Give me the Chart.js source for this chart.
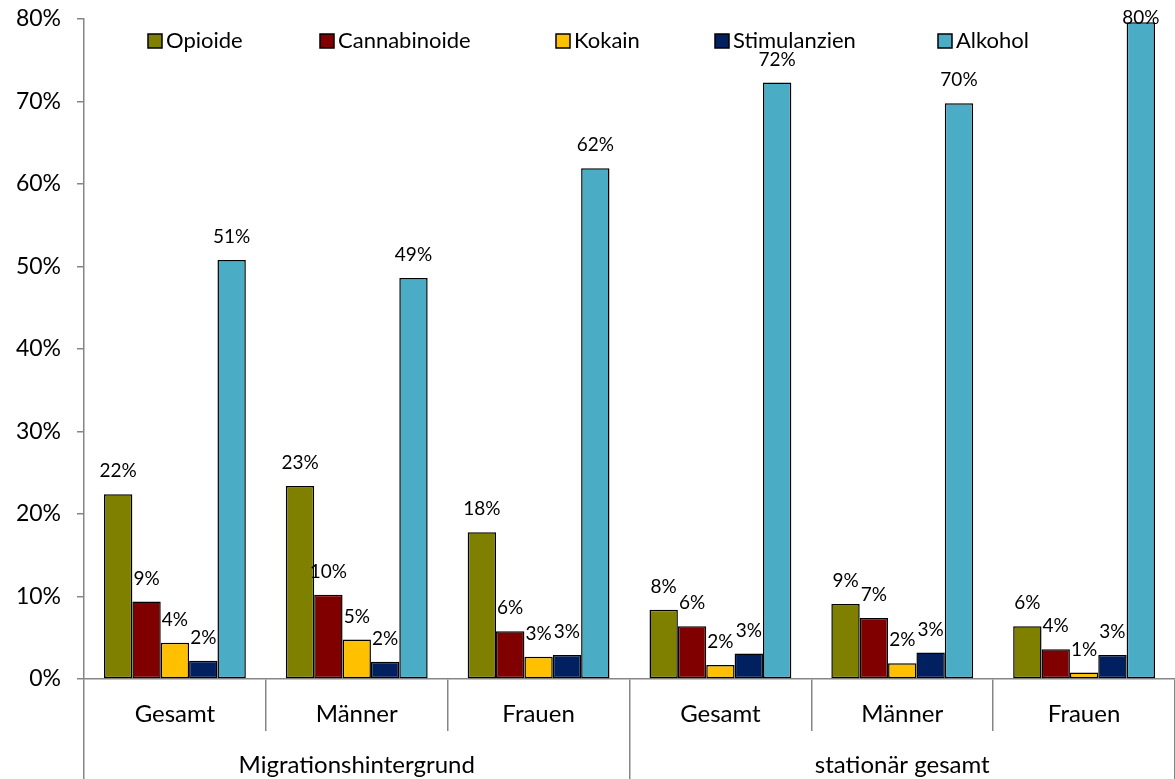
<!DOCTYPE html>
<html>
<head>
<meta charset="utf-8">
<script src="https://cdn.jsdelivr.net/npm/chart.js@4"></script>
<style>
  html, body { margin: 0; padding: 0; background: #fff; }
  #wrap { width: 1175px; height: 779px; position: relative; }
</style>
</head>
<body>
<div id="wrap"><canvas id="grafico" width="1175" height="779"></canvas></div>
<script>
// Kategorien und Gruppen
const kategorien = ["Gesamt", "Männer", "Frauen", "Gesamt", "Männer", "Frauen"];
const gruppen = ["Migrationshintergrund", "stationär gesamt"];

// Werte in Prozent
const opioide      = [22.4, 23.4, 17.8, 8.4, 9.1, 6.4];
const cannabinoide = [9.4, 10.2, 5.8, 6.4, 7.4, 3.6];
const kokain       = [4.4, 4.8, 2.7, 1.7, 1.9, 0.8];
const stimulanzien = [2.2, 2.1, 2.9, 3.1, 3.2, 2.9];
const alkohol      = [50.8, 48.6, 61.9, 72.3, 69.8, 79.6];

const yTicks = [0, 10, 20, 30, 40, 50, 60, 70, 80];

const grau = "#868686";
const schrift = "Lato, 'Open Sans', sans-serif";

const serien = [
    { label: "Opioide", data: opioide, farbe: "#808000" },
    { label: "Cannabinoide", data: cannabinoide, farbe: "#800000" },
    { label: "Kokain", data: kokain, farbe: "#FFC000" },
    { label: "Stimulanzien", data: stimulanzien, farbe: "#002060" },
    { label: "Alkohol", data: alkohol, farbe: "#4BACC6" }
];

// Beschriftung ueber den Balken
const datenLabels = {
    id: "datenLabels",
    afterDatasetsDraw(chart) {
        const ctx = chart.ctx;
        ctx.save();
        ctx.font = "19px " + schrift;
        ctx.fillStyle = "#000";
        ctx.textAlign = "center";
        ctx.textBaseline = "middle";
        chart.data.datasets.forEach((ds, i) => {
            chart.getDatasetMeta(i).data.forEach((bar, j) => {
                const y = Math.max(bar.y - 23, 18);
                ctx.fillText(Math.round(ds.data[j]) + "%", bar.x, y);
            });
        });
        ctx.restore();
    }
};

// Legende innerhalb der Zeichenflaeche
const legendePos = [148, 320, 556, 715, 938];
const legende = {
    id: "legende",
    afterDraw(chart) {
        const ctx = chart.ctx;
        ctx.save();
        ctx.font = "22px " + schrift;
        ctx.textBaseline = "middle";
        ctx.textAlign = "left";
        chart.data.datasets.forEach((ds, i) => {
            const x = legendePos[i];
            const y = 41;
            ctx.fillStyle = ds.backgroundColor;
            ctx.fillRect(x, y - 7, 14, 14);
            ctx.strokeStyle = "#000";
            ctx.lineWidth = 1.5;
            ctx.strokeRect(x, y - 7, 14, 14);
            ctx.fillStyle = "#000";
            ctx.fillText(ds.label, x + 18, y);
        });
        ctx.restore();
    }
};

const ctx = document.getElementById("grafico").getContext("2d");

new Chart(ctx, {
    type: "bar",
    data: {
        labels: kategorien,
        datasets: serien.map(s => ({
            label: s.label,
            data: s.data,
            backgroundColor: s.farbe,
            borderColor: "#000",
            borderWidth: 1.5,
            borderSkipped: false,
            categoryPercentage: 0.78,
            barPercentage: 1.0
        }))
    },
    options: {
        responsive: false,
        animation: false,
        layout: { padding: { top: 19, right: 0, bottom: 0, left: 0 } },
        plugins: {
            legend: { display: false },
            tooltip: { enabled: false }
        },
        scales: {
            y: {
                min: 0,
                max: 80,
                afterBuildTicks: axis => { axis.ticks = yTicks.map(v => ({ value: v })); },
                afterFit: axis => {
                    axis.width = 84;
                    axis.paddingTop = 0;
                    axis.paddingBottom = 0;
                },
                grid: { drawOnChartArea: false, tickLength: 7, color: grau, lineWidth: 1.5 },
                border: { color: grau, width: 1.5 },
                ticks: {
                    padding: 16,
                    color: "#000",
                    font: { size: 23, family: schrift },
                    callback: v => v + "%"
                }
            },
            x: {
                position: "bottom",
                afterFit: axis => {
                    axis.height = 52;
                    axis.paddingLeft = 0;
                    axis.paddingRight = 0;
                },
                grid: { offset: true, drawOnChartArea: false, tickLength: 52, color: grau, lineWidth: 1.5 },
                border: { color: grau, width: 1.5 },
                ticks: {
                    padding: -31,
                    color: "#000",
                    maxRotation: 0,
                    font: { size: 24, family: schrift }
                }
            },
            x2: {
                type: "category",
                labels: gruppen,
                position: "bottom",
                afterFit: axis => {
                    axis.height = 48;
                    axis.paddingLeft = 0;
                    axis.paddingRight = 0;
                },
                grid: { offset: true, drawOnChartArea: false, tickLength: 48, color: grau, lineWidth: 1.5 },
                border: { display: false },
                ticks: {
                    padding: -28,
                    color: "#000",
                    maxRotation: 0,
                    font: { size: 24, family: schrift }
                }
            }
        }
    },
    plugins: [datenLabels, legende]
});
</script>
</body>
</html>
